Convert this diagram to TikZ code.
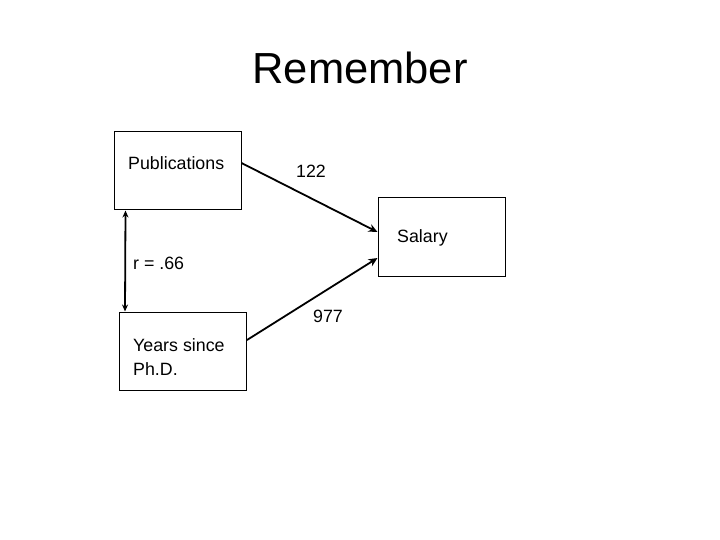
\documentclass[tikz,border=0pt]{standalone}
\usepackage{fontspec}
\setmainfont{Liberation Sans}
\usetikzlibrary{arrows.meta}
\begin{document}
\begin{tikzpicture}[x=1pt,y=-1pt,
  box/.style={draw=black,line width=1pt,minimum width=127pt,minimum height=78pt,inner sep=0pt,fill=white},
  lbl/.style={anchor=base west,inner sep=0pt,font=\fontsize{17.8}{21}\selectfont},
  conn/.style={line width=1.8pt,-{Stealth[length=9pt,width=8pt]}}]
\useasboundingbox (0,0) rectangle (720,540);
\node[anchor=base,inner sep=0pt,font=\fontsize{43.5}{50}\selectfont] (title) at (360,84) {Remember};
\node[box] (pub) at (177.5,171) {};
\node[box] (yrs) at (183,351) {};
\node[box] (sal) at (441.5,237) {};
\node[lbl] (tpub) at (128,170) {Publications};
\node[lbl] (tsal) at (397,243) {Salary};
\node[lbl] (ty1) at (133,351) {Years since};
\node[lbl] (ty2) at (133,375) {Ph.D.};
\node[lbl] (t122) at (296,178) {122};
\node[lbl] (t977) at (313,322) {977};
\node[lbl] (tr) at (133,269) {r = .66};
\draw[conn] ([yshift=8pt]pub.east) -- ([yshift=5pt]sal.west);
\draw[conn] ([yshift=11pt]yrs.east) -- ([yshift=-21pt]sal.west);
\draw[line width=1.8pt,{Stealth[length=7pt,width=6pt]}-{Stealth[length=7pt,width=6pt]}] ([xshift=12pt]pub.south west) -- ([xshift=6pt]yrs.north west);
\end{tikzpicture}
\end{document}
